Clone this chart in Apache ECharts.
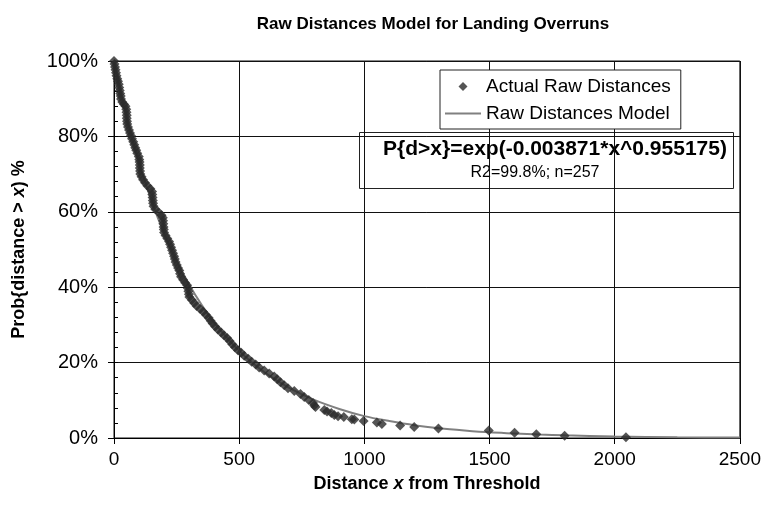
<!DOCTYPE html>
<html>
<head>
<meta charset="utf-8">
<script src="https://cdn.jsdelivr.net/npm/echarts@6/dist/echarts.min.js"></script>
<style>
    html, body { margin: 0; padding: 0; background: #fff; }
    #chart { width: 764px; height: 508px; }
</style>
</head>
<body>
<div id="chart"></div>
<script>
// 着陆冲出跑道距离模型 - 经验点与拟合曲线

// 实测距离 (x) 与超越概率 (%)
const rawDist = [
    0, 2, 4, 6, 8, 10, 13, 16, 19, 21, 23, 25, 27, 28, 33, 40, 46,
    49, 50, 51, 51, 52, 53, 56, 60, 64, 68, 72, 77, 81, 85, 89, 93, 99,
    101, 102, 103, 103, 104, 105, 110, 116, 124, 133, 145, 152,
    153, 154, 155, 156, 158, 165, 178, 190, 195, 196, 197, 198, 199, 200,
    206, 213, 220, 224, 228, 232, 236, 240, 243, 246, 251, 256, 261, 264, 268,
    276, 284, 292, 295, 297, 299, 301, 311, 320, 330, 344, 356, 367,
    378, 386, 394, 404, 415, 428, 440, 452, 462, 472, 483, 495,
    508, 520, 536, 550, 566, 580, 600, 620, 640, 652, 665, 680, 695,
    720, 745, 760, 778, 795, 800, 805, 840, 851, 868, 880, 895, 918, 950, 960, 997,
    1050, 1070, 1143, 1199, 1296, 1497, 1600, 1687, 1800, 2045
];
const rawProb = [
    100, 99.2, 98.4, 97.7, 96.9, 96.1, 95.3, 94.6, 93.8, 93.0, 92.2, 91.4, 90.7, 89.9, 89.1, 88.5, 88.0,
    87.2, 86.4, 85.6, 84.8, 84.0, 83.3, 82.5, 81.7, 80.9, 80.2, 79.4, 78.6, 77.8, 77.0, 76.3, 75.5, 74.7,
    73.9, 73.2, 72.4, 71.6, 70.8, 70.0, 69.3, 68.5, 67.7, 66.9, 66.1, 65.4,
    64.6, 63.8, 63.0, 62.3, 61.5, 60.7, 59.9, 59.1, 58.4, 57.6, 56.8, 56.0, 55.3, 54.5,
    53.7, 52.9, 52.1, 51.4, 50.6, 49.8, 49.0, 48.2, 47.5, 46.7, 45.9, 45.1, 44.4, 43.6, 42.8,
    42.0, 41.2, 40.5, 39.7, 38.9, 38.1, 37.4, 36.6, 35.8, 35.0, 34.2, 33.5, 32.7,
    31.9, 31.1, 30.4, 29.6, 28.8, 28.0, 27.2, 26.5, 25.7, 24.9, 24.1, 23.3,
    22.6, 21.8, 21.0, 20.2, 19.5, 18.7, 17.9, 17.1, 16.3, 15.6, 14.8, 14.0, 13.2,
    12.5, 11.7, 10.9, 10.1, 9.3, 8.6, 8.2, 7.4, 7.0, 6.6, 6.1, 5.8, 5.6, 5.0, 4.9, 4.5,
    4.1, 3.7, 3.3, 2.9, 2.5, 2.0, 1.4, 1.0, 0.6, 0.2
];

// 拟合模型曲线 (读图取值)
const modelDist = [0, 10, 25, 50, 75, 100, 150, 200, 250, 300, 350, 400, 500, 600, 700, 800, 900,
    1000, 1100, 1200, 1300, 1400, 1500, 1600, 1700, 1800, 2000, 2250, 2500];
const modelProb = [100, 96.6, 92.0, 85.0, 78.7, 73.0, 62.9, 54.3, 47.0, 40.7, 35.3, 30.6, 23.1, 17.5, 13.3, 10.1, 7.7,
    5.8, 4.5, 3.4, 2.6, 2.0, 1.5, 1.2, 0.9, 0.7, 0.4, 0.2, 0.1];

const xTicks = { min: 0, max: 2500, step: 500 };
const yTicks = { min: 0, max: 100, step: 20, minorStep: 4 };

const titleText = 'Raw Distances Model for Landing Overruns';
const actualName = 'Actual Raw Distances';
const modelName = 'Raw Distances Model';
const formulaText = 'P{d>x}=exp(-0.003871*x^0.955175)';
const statsText = 'R2=99.8%; n=257';

const FONT = '"Liberation Sans", Arial, Helvetica, sans-serif';
const DIAMOND_PATH = 'path://M0,-1L1,0L0,1L-1,0Z';
const LINE_PATH = 'path://M0,0H36V2H0Z';

/**
 * 初始化图表
 */
function initChart() {
    const chart = echarts.init(document.getElementById('chart'), null, { renderer: 'canvas' });

    const actualData = rawDist.map((d, i) => [d, rawProb[i]]);
    const modelData = modelDist.map((d, i) => [d, modelProb[i]]);

    const option = {
        backgroundColor: '#fff',
        animation: false,
        textStyle: { fontFamily: FONT },
        title: {
            text: titleText,
            left: 428,
            textAlign: 'center',
            top: 11,
            textStyle: { fontFamily: FONT, fontSize: 17, fontWeight: 'bold', color: '#000' }
        },
        grid: {
            left: 114,
            top: 61,
            right: 21,
            bottom: 70,
            show: true,
            borderColor: '#111',
            borderWidth: 1,
            backgroundColor: 'transparent'
        },
        legend: {
            orient: 'vertical',
            left: 440,
            top: 70,
            padding: [7, 10, 6, 5],
            itemGap: 8,
            itemWidth: 36,
            itemHeight: 9,
            backgroundColor: '#fff',
            borderColor: '#222',
            borderWidth: 1,
            borderRadius: 0,
            textStyle: { fontFamily: FONT, fontSize: 19, color: '#000' },
            data: [
                { name: actualName, icon: DIAMOND_PATH },
                { name: modelName, icon: LINE_PATH }
            ],
            z: 20
        },
        xAxis: {
            type: 'value',
            min: xTicks.min,
            max: xTicks.max,
            interval: xTicks.step,
            name: 'Distance {i|x} from Threshold',
            nameLocation: 'middle',
            nameGap: 37,
            nameTextStyle: {
                fontFamily: FONT,
                fontSize: 18,
                fontWeight: 'bold',
                color: '#000',
                rich: {
                    i: { fontFamily: FONT, fontSize: 18, fontWeight: 'bold', fontStyle: 'italic', color: '#000' }
                }
            },
            axisLine: { show: true, lineStyle: { color: '#000', width: 1 } },
            axisTick: { show: true, length: 6, lineStyle: { color: '#000' } },
            axisLabel: {
                fontFamily: FONT,
                fontSize: 19,
                color: '#000',
                margin: 12,
                formatter: (v) => String(v)
            },
            splitLine: { show: true, lineStyle: { color: '#111', width: 1 } }
        },
        yAxis: [
            {
                type: 'value',
                min: yTicks.min,
                max: yTicks.max,
                interval: yTicks.step,
                position: 'left',
                name: 'Prob{distance > {i|x}) %',
                nameLocation: 'middle',
                nameGap: 86,
                nameTextStyle: {
                    fontFamily: FONT,
                    fontSize: 18,
                    fontWeight: 'bold',
                    color: '#000',
                    rich: {
                        i: { fontFamily: FONT, fontSize: 18, fontWeight: 'bold', fontStyle: 'italic', color: '#000' }
                    }
                },
                axisLine: { show: true, lineStyle: { color: '#000', width: 1 } },
                axisTick: { show: true, length: 6, lineStyle: { color: '#000' } },
                axisLabel: { fontFamily: FONT, fontSize: 20, color: '#000', margin: 16, formatter: '{value}%' },
                splitLine: { show: true, lineStyle: { color: '#111', width: 1 } }
            },
            {
                // 次刻度 (朝内)
                type: 'value',
                min: yTicks.min,
                max: yTicks.max,
                interval: yTicks.minorStep,
                position: 'left',
                offset: 0,
                axisLine: { show: false },
                axisTick: { show: true, inside: true, length: 4, lineStyle: { color: '#000' } },
                axisLabel: { show: false },
                splitLine: { show: false }
            }
        ],
        graphic: [
            {
                type: 'group',
                z: 100,
                children: [
                    {
                        type: 'rect',
                        shape: { x: 359.5, y: 132.5, width: 374, height: 56 },
                        style: { fill: '#fff', stroke: '#222', lineWidth: 1 }
                    },
                    {
                        type: 'text',
                        x: 555,
                        y: 149,
                        style: {
                            text: formulaText,
                            fontFamily: FONT,
                            fontSize: 21,
                            fontWeight: 'bold',
                            fill: '#000',
                            textAlign: 'center',
                            textVerticalAlign: 'middle'
                        }
                    },
                    {
                        type: 'text',
                        x: 535,
                        y: 173,
                        style: {
                            text: statsText,
                            fontFamily: FONT,
                            fontSize: 16,
                            fill: '#000',
                            textAlign: 'center',
                            textVerticalAlign: 'middle'
                        }
                    }
                ]
            }
        ],
        series: [
            {
                name: modelName,
                type: 'line',
                data: modelData,
                smooth: 0.3,
                symbol: 'none',
                lineStyle: { color: '#808080', width: 2 },
                itemStyle: { color: '#808080' },
                z: 2
            },
            {
                name: actualName,
                type: 'scatter',
                data: actualData,
                symbol: 'diamond',
                symbolSize: 10,
                itemStyle: { color: '#2b2b2b' },
                z: 3
            }
        ]
    };

    chart.setOption(option);
    return chart;
}

initChart();
</script>
</body>
</html>
